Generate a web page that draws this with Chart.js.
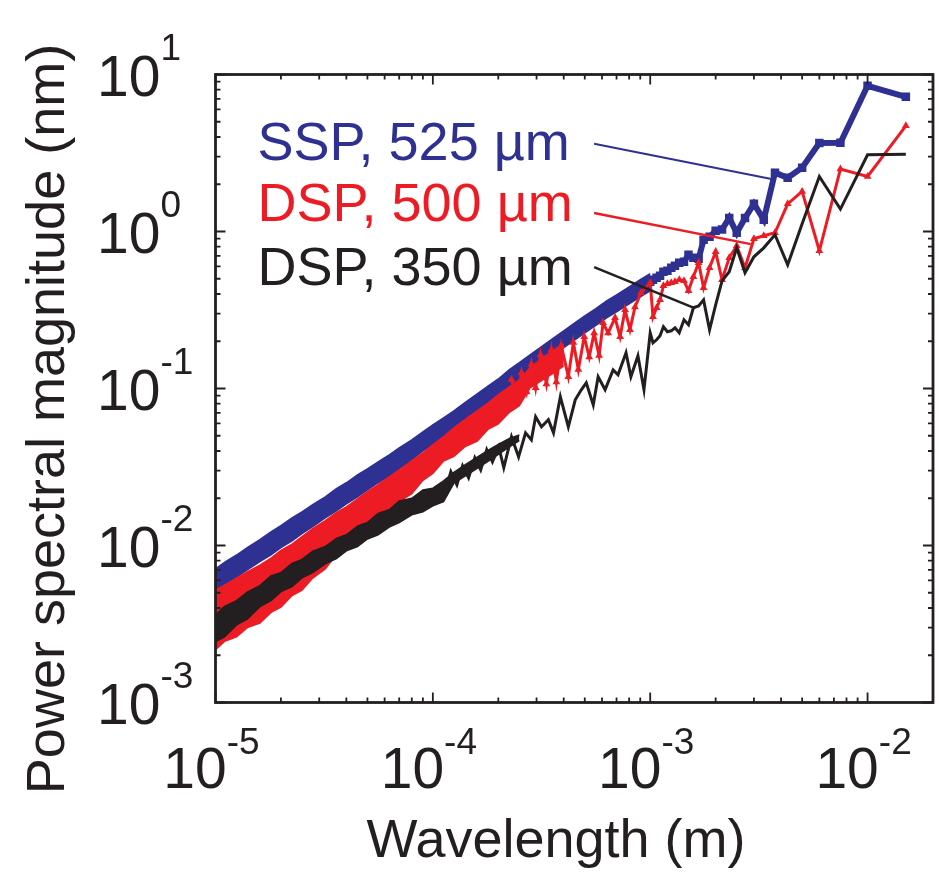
<!DOCTYPE html>
<html lang="en">
<head>
<meta charset="utf-8" />
<title>Power spectral magnitude vs wavelength</title>
<style>
  * { margin: 0; padding: 0; }
  body { background: #fff; }
  canvas { display: block; }
</style>
</head>
<body>
<canvas id="psd" width="939" height="876"></canvas>

<script src="https://cdn.jsdelivr.net/npm/chart.js"></script>
<script>
// wavelength grid (m) for the dense, unresolved part of the spectra
const bandX = [1.0e-5, 1.1e-5, 1.25e-5, 1.4e-5, 1.6e-5, 1.8e-5, 2.0e-5, 2.25e-5, 2.5e-5, 2.8e-5,
  3.2e-5, 3.6e-5, 4.0e-5, 4.5e-5, 5.0e-5, 5.6e-5, 6.3e-5, 7.0e-5, 8.0e-5, 9.0e-5,
  1.0e-4, 1.12e-4, 1.25e-4, 1.4e-4, 1.6e-4, 1.8e-4, 2.0e-4, 2.25e-4, 2.5e-4, 2.8e-4,
  3.2e-4, 3.6e-4, 4.0e-4, 4.5e-4, 5.0e-4, 5.6e-4, 6.3e-4, 7.0e-4, 8.0e-4, 9.0e-4, 1.0e-3];

// upper / lower edge of each noisy band (nm)
const ssp525Hi = [0.0071, 0.0078, 0.0087, 0.0097, 0.0109, 0.0122, 0.0134, 0.0150, 0.0164, 0.0182,
  0.0204, 0.0230, 0.0251, 0.0282, 0.0308, 0.0341, 0.0378, 0.0419, 0.0471, 0.0530,
  0.0587, 0.0651, 0.0721, 0.0811, 0.0925, 0.104, 0.115, 0.132, 0.146, 0.164,
  0.187, 0.210, 0.233, 0.262, 0.290, 0.322, 0.362, 0.395, 0.444, 0.493, 0.538];
const ssp525Lo = [0.0050, 0.0055, 0.0063, 0.0070, 0.0079, 0.0087, 0.0097, 0.0107, 0.0119, 0.0132,
  0.0150, 0.0166, 0.0184, 0.0204, 0.0226, 0.0251, 0.0278, 0.0308, 0.0352, 0.0401,
  0.0444, 0.0493, 0.0554, 0.0623, 0.0711, 0.0799, 0.0885, 0.0996, 0.112, 0.126,
  0.144, 0.162, 0.182, 0.204, 0.226, 0.251, 0.282, 0.308, 0.346, 0.384, 0.419];

const dsp500Hi = [0.0052, 0.0056, 0.0062, 0.0068, 0.0075, 0.0083, 0.0093, 0.0102, 0.0114, 0.0128,
  0.0144, 0.0162, 0.0176, 0.0198, 0.0220, 0.0244, 0.0274, 0.0303, 0.0346, 0.0389,
  0.0438, 0.0493, 0.0562, 0.0632, 0.0721, 0.0811, 0.0912, 0.1025, 0.1136, 0.1354,
  0.1569, 0.1764, 0.1926];
const dsp500Lo = [0.00217, 0.00245, 0.00262, 0.00300, 0.00320, 0.00375, 0.00405, 0.00480, 0.0052, 0.0062,
  0.0071, 0.0088, 0.0094, 0.0113, 0.0122, 0.0147, 0.0160, 0.0190, 0.0214, 0.0260,
  0.0288, 0.0345, 0.0370, 0.0425, 0.0462, 0.0552, 0.0595, 0.0705, 0.0776, 0.101,
  0.1136, 0.1259, 0.1395];

const dsp350Hi = [0.00362, 0.00410, 0.00445, 0.00505, 0.00555, 0.00640, 0.00672, 0.00770, 0.00815, 0.00920,
  0.00985, 0.0111, 0.0117, 0.0133, 0.0140, 0.0160, 0.0169, 0.0192, 0.0200, 0.0226,
  0.0232, 0.0258, 0.0292, 0.0325, 0.0365, 0.0405, 0.0440, 0.0480, 0.0505];
const dsp350Lo = [0.00244, 0.00262, 0.00312, 0.00340, 0.00408, 0.00445, 0.00508, 0.00548, 0.00622, 0.00672,
  0.00765, 0.00825, 0.00925, 0.00985, 0.0110, 0.0117, 0.0131, 0.0140, 0.0157, 0.0164,
  0.0179, 0.0190, 0.0250, 0.0276, 0.0310, 0.0345, 0.0380, 0.0425, 0.0465];

// resolved long-wavelength points (m, nm)
const ssp525X = [0.015, 0.01, 0.0075, 0.006, 0.005, 0.00429, 0.00375, 0.00333, 0.003, 0.00273,
  0.0025, 0.00231, 0.00214, 0.002, 0.001875, 0.00176, 0.00167, 0.00158, 0.0015, 0.00143,
  0.00136, 0.0013, 0.00125, 0.0012, 0.00115, 0.00111, 0.00107, 0.00103, 0.001, 0.00094,
  0.00088, 0.00083, 0.00079];
const ssp525Y = [7.21, 8.47, 3.67, 3.66, 2.55, 2.20, 2.37, 1.19, 1.50, 1.22,
  0.98, 1.22, 1.03, 1.01, 0.925, 0.885, 0.670, 0.680, 0.711, 0.641,
  0.632, 0.605, 0.587, 0.562, 0.554, 0.522, 0.507, 0.493, 0.478, 0.458,
  0.438, 0.413, 0.395];

const dsp500X = [0.015, 0.01, 0.0075, 0.006, 0.005, 0.00429, 0.00375, 0.00333, 0.003, 0.00273,
  0.0025, 0.00231, 0.00214, 0.002, 0.001875, 0.00176, 0.00167, 0.00158, 0.0015, 0.00143,
  0.00136, 0.0013, 0.00125, 0.0012, 0.00115, 0.00111, 0.00107, 0.00103, 0.001,
  9.07e-4, 8.51e-4, 8.07e-4, 7.66e-4, 7.27e-4, 6.89e-4, 6.40e-4, 6.07e-4, 5.82e-4, 5.52e-4,
  5.24e-4, 4.97e-4, 4.67e-4, 4.43e-4, 4.20e-4, 3.90e-4, 3.70e-4, 3.51e-4, 3.33e-4, 3.13e-4,
  2.97e-4, 2.84e-4, 2.70e-4, 2.56e-4, 2.43e-4, 2.30e-4];
const dsp500Y = [4.71, 2.24, 2.50, 0.754, 1.80, 1.50, 0.981, 0.939, 0.899, 0.587,
  0.811, 0.680, 0.493, 0.742, 0.587, 0.438, 0.632, 0.515, 0.419, 0.485,
  0.493, 0.478, 0.471, 0.464, 0.451, 0.367, 0.327, 0.286, 0.471,
  0.407, 0.331, 0.237, 0.317, 0.214, 0.282, 0.226, 0.262, 0.162, 0.226,
  0.159, 0.214, 0.132, 0.196, 0.119, 0.187, 0.110, 0.176, 0.107, 0.164,
  0.101, 0.142, 0.095, 0.126, 0.085, 0.114];

const dsp350X = [0.015, 0.01, 0.0075, 0.006, 0.005, 0.00429, 0.00375, 0.00333, 0.003, 0.00273,
  0.0025, 0.00231, 0.00214, 0.002, 0.001875, 0.00176, 0.00167, 0.00158, 0.0015, 0.00143,
  0.00136, 0.0013, 0.00125, 0.0012, 0.00115, 0.00111, 0.00107, 0.00103, 0.001,
  9.36e-4, 8.78e-4, 8.15e-4, 7.74e-4, 7.11e-4, 6.75e-4, 6.20e-4, 5.76e-4, 5.47e-4, 5.08e-4,
  4.82e-4, 4.52e-4, 4.20e-4, 3.86e-4, 3.59e-4, 3.40e-4, 3.16e-4, 2.97e-4, 2.84e-4, 2.67e-4,
  2.48e-4, 2.30e-4, 2.12e-4, 2.01e-4, 1.88e-4, 1.77e-4, 1.66e-4, 1.56e-4, 1.46e-4, 1.37e-4,
  1.29e-4, 1.21e-4, 1.14e-4, 1.07e-4];
const dsp350Y = [3.11, 3.08, 1.39, 2.24, 1.12, 0.614, 0.953, 0.787, 0.690, 0.546,
  0.787, 0.554, 0.485, 0.341, 0.2365, 0.367, 0.336, 0.327, 0.2545, 0.274,
  0.2263, 0.2435, 0.233, 0.2297, 0.247, 0.2166, 0.2043, 0.1955, 0.2263,
  0.0981, 0.1615, 0.1187, 0.1688, 0.1223, 0.1315, 0.0981, 0.1187, 0.0787, 0.1087,
  0.0981, 0.0847, 0.0570, 0.0885, 0.0522, 0.0632, 0.0570, 0.0660, 0.0471, 0.0522,
  0.0367, 0.0493, 0.0313, 0.0425, 0.0341, 0.0407, 0.0303, 0.0362, 0.0270, 0.0322,
  0.0244, 0.0295, 0.0220, 0.0226];

// curve labels and leader lines (data units)
const seriesNames = ["SSP, 525 \u00b5m", "DSP, 500 \u00b5m", "DSP, 350 \u00b5m"];
const labelX = 1.56e-5;
const labelY = [2.86, 1.16, 0.458];
const leaderFrom = [[5.52e-4, 3.62], [5.52e-4, 1.31], [5.52e-4, 0.593]];
const leaderTo = [[3.61e-3, 2.16], [2.90e-3, 0.831], [1.60e-3, 0.325]];

// axis decades and their exponents
const xDecades = [1e-5, 1e-4, 1e-3, 1e-2];
const xExp = ["-5", "-4", "-3", "-2"];
const yDecades = [1e-3, 1e-2, 1e-1, 1e0, 1e1];
const yExp = ["-3", "-2", "-1", "0", "1"];

const BLUE = "#2e3192";
const RED = "#ed1c24";
const INK = "#231f20";
const FONT = "'Liberation Sans', Arial, Helvetica, sans-serif";

const pts = (xs, ys) => ys.map((v, i) => ({ x: xs[i], y: v }));

const band = (hi, lo, color, order) => [
  { data: pts(bandX, hi), borderColor: color, backgroundColor: color, borderWidth: 1.5,
    pointRadius: 0, fill: "+1", order },
  { data: pts(bandX, lo), borderColor: color, borderWidth: 1.5, pointRadius: 0, fill: false, order },
];

const leader = (i, color, width) => ({
  data: [{ x: leaderFrom[i][0], y: leaderFrom[i][1] }, { x: leaderTo[i][0], y: leaderTo[i][1] }],
  borderColor: color, borderWidth: width, pointRadius: 0, fill: false, order: -1,
});

const datasets = [
  ...band(ssp525Hi, ssp525Lo, BLUE, 3),
  { data: pts(ssp525X, ssp525Y), borderColor: BLUE, backgroundColor: BLUE, borderWidth: 6,
    pointStyle: "rect", pointRadius: 6, pointBorderWidth: 0, fill: false, order: 3 },
  ...band(dsp500Hi, dsp500Lo, RED, 2),
  { data: pts(dsp500X, dsp500Y), borderColor: RED, backgroundColor: RED, borderWidth: 3,
    pointStyle: "triangle", pointRadius: 4.5, pointBorderWidth: 0, fill: false, order: 2 },
  ...band(dsp350Hi, dsp350Lo, INK, 1),
  { data: pts(dsp350X, dsp350Y), borderColor: INK, borderWidth: 3, pointRadius: 0, fill: false, order: 1 },
  leader(0, BLUE, 2),
  leader(1, RED, 2.5),
  leader(2, INK, 2.5),
];

// frame with inward ticks, power-of-ten labels, titles and curve labels
const frame = {
  id: "frame",
  afterDatasetsDraw(chart) {
    const { ctx, chartArea: a, scales: { x, y } } = chart;
    ctx.save();
    ctx.strokeStyle = INK;
    ctx.fillStyle = INK;

    ctx.lineWidth = 1.8;
    ctx.beginPath();
    xDecades.forEach((d) => {
      for (let m = 1; m <= 9; m++) {
        const v = d * m;
        if (v > x.max * 0.999) continue;
        const px = x.getPixelForValue(v);
        const len = m === 1 ? 10 : 5;
        ctx.moveTo(px, a.bottom); ctx.lineTo(px, a.bottom - len);
        ctx.moveTo(px, a.top); ctx.lineTo(px, a.top + len);
      }
    });
    yDecades.forEach((d) => {
      for (let m = 1; m <= 9; m++) {
        const v = d * m;
        if (v > y.max * 1.001) continue;
        const py = y.getPixelForValue(v);
        const len = m === 1 ? 10 : 5;
        ctx.moveTo(a.left, py); ctx.lineTo(a.left + len, py);
        ctx.moveTo(a.right, py); ctx.lineTo(a.right - len, py);
      }
    });
    ctx.stroke();

    ctx.lineWidth = 2.8;
    ctx.strokeRect(a.left, a.top, a.right - a.left, a.bottom - a.top);

    // tick labels: 10 with a raised exponent
    const big = "57px " + FONT, small = "37px " + FONT;
    ctx.textAlign = "left";
    ctx.textBaseline = "alphabetic";
    xDecades.forEach((d, i) => {
      ctx.font = big; const w10 = ctx.measureText("10").width;
      ctx.font = small; const we = ctx.measureText(xExp[i]).width;
      const start = x.getPixelForValue(d) - (w10 + we) / 2 - 4;
      ctx.font = big; ctx.fillText("10", start, a.bottom + 85);
      ctx.font = small; ctx.fillText(xExp[i], start + w10, a.bottom + 51);
    });
    yDecades.forEach((d, i) => {
      const py = y.getPixelForValue(d);
      ctx.font = big; const w10 = ctx.measureText("10").width;
      ctx.fillText("10", 97, py + 21);
      ctx.font = small; ctx.fillText(yExp[i], 97 + w10, py - 15);
    });

    // axis titles
    ctx.font = "54px " + FONT;
    ctx.textAlign = "center";
    ctx.fillText("Wavelength (m)", 556, 857);
    ctx.save();
    ctx.translate(64, 419);
    ctx.rotate(-Math.PI / 2);
    ctx.fillText("Power spectral magnitude (nm)", 0, 0);
    ctx.restore();

    // curve labels
    ctx.font = "54px " + FONT;
    ctx.textAlign = "left";
    [BLUE, RED, INK].forEach((c, i) => {
      ctx.fillStyle = c;
      ctx.fillText(seriesNames[i], x.getPixelForValue(labelX), y.getPixelForValue(labelY[i]));
    });
    ctx.restore();
  },
};

const config = {
  type: "line",
  data: { datasets },
  options: {
    responsive: false,
    animation: false,
    devicePixelRatio: 1,
    layout: { padding: { left: 215.5, right: 2, top: 74.5, bottom: 173.5 } },
    elements: { line: { tension: 0 } },
    scales: {
      x: { type: "logarithmic", min: 1e-5, max: 2e-2, display: false },
      y: { type: "logarithmic", min: 1e-3, max: 10, display: false },
    },
    plugins: {
      legend: { display: false },
      tooltip: { enabled: false },
    },
  },
  plugins: [frame],
};

const psdChart = new Chart(document.getElementById("psd"), config);
</script>
</body>
</html>
